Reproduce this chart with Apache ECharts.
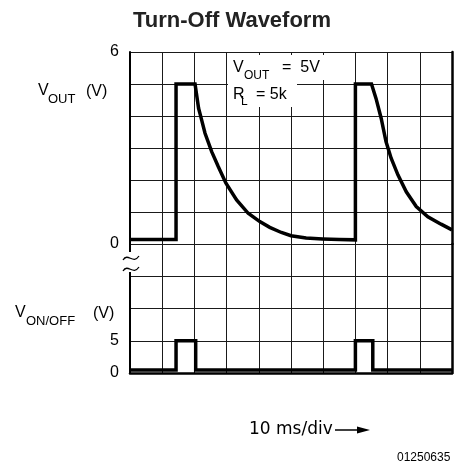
<!DOCTYPE html>
<html>
<head>
<meta charset="utf-8">
<title>Turn-Off Waveform</title>
<script src="https://cdn.jsdelivr.net/npm/echarts@6/dist/echarts.min.js"></script>
<style>
  html, body { margin: 0; padding: 0; background: #fff; }
  #chart { width: 464px; height: 467px; }
</style>
</head>
<body>
<div id="chart"></div>
<script>
// time in ms (10 ms/div), voltages in V
const voutTime = [0, 14.3, 14.3, 20.2, 21.3, 21.8, 23.3, 25.4, 27.4, 29.8, 33.1, 36.7, 40.3, 43.4, 47.0, 50.0, 54.7, 59.8, 65.0, 70.0,
  70.0, 75.0, 76.4, 78.0, 79.5, 81.1, 83.2, 85.8, 88.9, 92.5, 96.6, 100]
const voutVolts = [0.14, 0.14, 5.0, 5.0, 4.24, 4.05, 3.46, 2.88, 2.42, 1.90, 1.38, 0.96, 0.70, 0.52, 0.36, 0.26, 0.19, 0.16, 0.14, 0.13,
  5.0, 5.0, 4.55, 3.93, 3.20, 2.68, 2.16, 1.63, 1.17, 0.85, 0.62, 0.44]

const vonTime = [0, 14.3, 14.3, 20.4, 20.4, 70.0, 70.0, 75.4, 75.4, 100]
const vonVolts = [0.45, 0.45, 5.0, 5.0, 0.45, 0.45, 5.0, 5.0, 0.45, 0.45]

const voutLabels = [0, 6]
const vonLabels = [0, 5]

const FONT = '"Liberation Sans", Arial, sans-serif'
const PLOT_FONT = '"DejaVu Sans", sans-serif'

const chart = echarts.init(document.getElementById('chart'))

function txt(text, x, y, size, font) {
  return {
    type: 'text', x: x, y: y, z: 110,
    style: { text: text, font: size + 'px ' + (font || FONT), fill: '#000', textVerticalAlign: 'middle' }
  }
}

function squiggle(y) {
  return {
    type: 'bezierCurve', z: 110,
    shape: { x1: 123, y1: y + 3, cpx1: 128, cpy1: y - 5, cpx2: 133, cpy2: y + 8, x2: 139, y2: y - 1 },
    style: { stroke: '#000', lineWidth: 1.3, fill: null }
  }
}

const gridLine = { show: true, lineStyle: { color: '#1a1a1a', width: 1 } }

const option = {
  animation: false,
  backgroundColor: '#fff',
  title: {
    text: 'Turn-Off Waveform',
    left: 'center',
    top: 5,
    textStyle: { fontFamily: FONT, fontWeight: 'bold', fontSize: 22, color: '#222' }
  },
  grid: [
    { left: 130, top: 52, width: 322, height: 192 },
    { left: 130, top: 244, width: 322, height: 129 }
  ],
  xAxis: [
    {
      type: 'value', gridIndex: 0, min: 0, max: 100, interval: 10,
      axisLine: { show: false }, axisTick: { show: false }, axisLabel: { show: false },
      splitLine: gridLine
    },
    {
      type: 'value', gridIndex: 1, min: 0, max: 100, interval: 10,
      axisLine: { show: true, onZero: false, lineStyle: { color: '#000', width: 2.5 } },
      axisTick: { show: false }, axisLabel: { show: false },
      splitLine: gridLine
    }
  ],
  yAxis: [
    {
      type: 'value', gridIndex: 0, min: 0, max: 6, interval: 1,
      axisLine: { show: true, lineStyle: { color: '#000', width: 2 } },
      axisTick: { show: false },
      axisLabel: {
        margin: 11, fontFamily: FONT, fontSize: 16, color: '#000',
        formatter: v => voutLabels.includes(v) ? String(v) : ''
      },
      splitLine: gridLine
    },
    {
      type: 'value', gridIndex: 1, min: 0, max: 20, interval: 5,
      axisLine: { show: true, lineStyle: { color: '#000', width: 2 } },
      axisTick: { show: false },
      axisLabel: {
        margin: 11, fontFamily: FONT, fontSize: 16, color: '#000',
        formatter: v => vonLabels.includes(v) ? String(v) : ''
      },
      splitLine: gridLine
    },
    // right border of the screen
    {
      type: 'value', gridIndex: 0, position: 'right', min: 0, max: 6,
      axisLine: { show: true, lineStyle: { color: '#000', width: 2.5 } },
      axisTick: { show: false }, axisLabel: { show: false }, splitLine: { show: false }
    },
    {
      type: 'value', gridIndex: 1, position: 'right', min: 0, max: 20,
      axisLine: { show: true, lineStyle: { color: '#000', width: 2.5 } },
      axisTick: { show: false }, axisLabel: { show: false }, splitLine: { show: false }
    }
  ],
  series: [
    {
      name: 'VOUT', type: 'line', xAxisIndex: 0, yAxisIndex: 0,
      data: voutTime.map((t, i) => [t, voutVolts[i]]),
      symbol: 'none', lineStyle: { color: '#000', width: 3.5, join: 'miter' }
    },
    {
      name: 'VON/OFF', type: 'line', xAxisIndex: 1, yAxisIndex: 1,
      data: vonTime.map((t, i) => [t, vonVolts[i]]),
      symbol: 'none', lineStyle: { color: '#000', width: 3.5, join: 'miter' }
    }
  ],
  graphic: [
    // white patches behind the setting note
    { type: 'rect', z: 100, shape: { x: 228, y: 55, width: 97, height: 25 }, style: { fill: '#fff' } },
    { type: 'rect', z: 100, shape: { x: 228, y: 55, width: 69, height: 52 }, style: { fill: '#fff' } },
    txt('V', 233, 68, 16),
    txt('OUT', 244, 76, 12),
    txt('=  5V', 282, 68, 16),
    txt('R', 233, 95, 16),
    txt('L', 241, 102, 12),
    txt('= 5k', 256, 95, 16),

    // axis titles
    txt('V', 38, 91, 16),
    txt('OUT', 48, 99, 13),
    txt('(V)', 86, 92, 16),
    txt('V', 15, 313, 16),
    txt('ON/OFF', 26, 321, 13),
    txt('(V)', 93, 314, 16),

    // break in the left border
    { type: 'rect', z: 105, shape: { x: 128, y: 252, width: 5, height: 20 }, style: { fill: '#fff' } },
    squiggle(257),
    squiggle(268),

    // time base
    txt('10 ms/div', 249, 430, 17, PLOT_FONT),
    { type: 'line', z: 110, shape: { x1: 335, y1: 430, x2: 360, y2: 430 }, style: { stroke: '#000', lineWidth: 1.5 } },
    { type: 'polygon', z: 110, shape: { points: [[357, 426.5], [370, 430], [357, 433.5]] }, style: { fill: '#000' } },
    txt('01250635', 397, 458, 12)
  ]
}

chart.setOption(option)
</script>
</body>
</html>
